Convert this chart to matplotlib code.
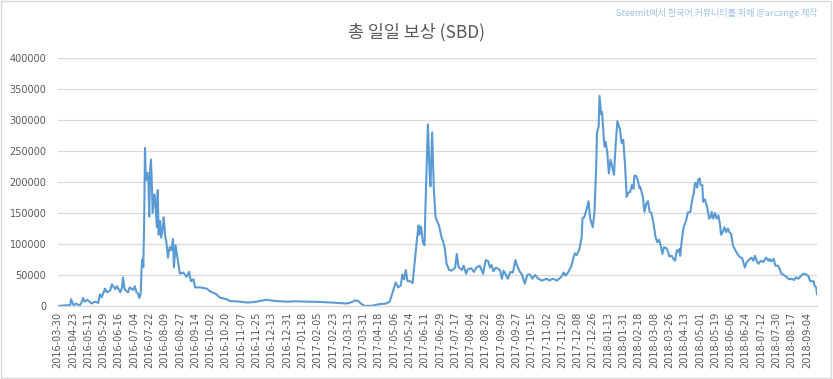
import matplotlib
matplotlib.use("Agg")
import matplotlib.pyplot as plt
from matplotlib.patches import Rectangle

# Tick labels (every 18th day of the series)
tick_labels = [
    "2016-03-30", "2016-04-23", "2016-05-11", "2016-05-29", "2016-06-16", "2016-07-04",
    "2016-07-22", "2016-08-09", "2016-08-27", "2016-09-14", "2016-10-02", "2016-10-20",
    "2016-11-07", "2016-11-25", "2016-12-13", "2016-12-31", "2017-01-18", "2017-02-05",
    "2017-02-23", "2017-03-13", "2017-03-31", "2017-04-18", "2017-05-06", "2017-05-24",
    "2017-06-11", "2017-06-29", "2017-07-17", "2017-08-04", "2017-08-22", "2017-09-09",
    "2017-09-27", "2017-10-15", "2017-11-02", "2017-11-20", "2017-12-08", "2017-12-26",
    "2018-01-13", "2018-01-31", "2018-02-18", "2018-03-08", "2018-03-26", "2018-04-13",
    "2018-05-01", "2018-05-19", "2018-06-06", "2018-06-24", "2018-07-12", "2018-07-30",
    "2018-08-17", "2018-09-04",
]
tick_step = 18

# Day index in the series and total daily reward (SBD)
day = [
    1, 9, 15, 16, 19, 22, 26, 29, 30, 32, 35, 36, 40, 44, 48, 50, 52, 56, 58, 62,
    64, 68, 70, 74, 76, 77, 79, 83, 85, 89, 91, 93, 95, 96, 97, 98, 99, 100, 101, 102,
    103, 104, 106, 107, 108, 109, 110, 111, 112, 114, 115, 117, 118, 119, 121, 122, 124, 125, 127, 128,
    130, 132, 134, 136, 137, 139, 141, 144, 148, 152, 155, 157, 160, 162, 168, 176, 179, 187, 191, 199,
    203, 215, 223, 232, 246, 256, 270, 281, 293, 309, 324, 340, 346, 350, 354, 358, 362, 370, 379, 387,
    391, 395, 398, 401, 404, 406, 408, 410, 412, 415, 418, 421, 423, 425, 426, 428, 430, 432, 433, 436,
    438, 439, 441, 443, 445, 449, 452, 454, 456, 458, 461, 464, 468, 470, 472, 476, 478, 481, 483, 487,
    490, 493, 497, 501, 504, 507, 509, 511, 513, 516, 519, 521, 523, 525, 528, 530, 533, 536, 539, 541,
    544, 547, 550, 553, 556, 559, 562, 566, 570, 576, 579, 583, 588, 593, 596, 598, 601, 605, 607, 609,
    611, 614, 617, 618, 620, 623, 625, 627, 630, 632, 634, 635, 637, 638, 640, 641, 643, 644, 645, 647,
    649, 651, 653, 655, 657, 659, 662, 664, 666, 668, 670, 672, 674, 676, 678, 679, 681, 683, 685, 686,
    689, 691, 693, 695, 697, 699, 701, 704, 706, 708, 710, 712, 714, 717, 719, 720, 723, 725, 727, 729,
    731, 732, 733, 735, 737, 740, 742, 745, 747, 749, 750, 751, 753, 754, 756, 757, 759, 760, 762, 764,
    766, 767, 769, 770, 772, 774, 776, 778, 780, 781, 783, 785, 787, 789, 791, 793, 795, 799, 803, 806,
    809, 811, 815, 817, 819, 821, 823, 825, 828, 831, 834, 837, 838, 840, 843, 845, 848, 850, 852, 855,
    858, 861, 864, 867, 869, 872, 874, 878, 881, 884, 886, 890, 891, 893, 894,
]
sbd = [
    0, 1000, 1500, 11000, 1000, 4000, 0, 8000, 13000, 7000, 10000, 9000, 4000, 7000, 5000, 19000, 14000, 28000, 22000, 25000,
    35000, 27000, 32000, 22000, 30000, 46000, 27000, 22000, 30000, 26000, 32000, 22000, 20000, 13000, 15000, 22000, 62000, 75000, 63000, 135000,
    255000, 203000, 215000, 200000, 144000, 220000, 236000, 200000, 150000, 180000, 170000, 127000, 187000, 115000, 137000, 110000, 125000, 143000, 110000, 105000,
    78000, 95000, 90000, 108000, 62000, 98000, 80000, 52000, 54000, 47000, 55000, 40000, 43000, 30000, 30000, 28000, 24000, 19000, 13500, 11000,
    8000, 7000, 5500, 6500, 10000, 8000, 7000, 7500, 7000, 6500, 5500, 4000, 6000, 9000, 8000, 3000, 0, 500, 3000, 4000,
    7000, 24000, 38000, 30000, 33000, 51000, 43000, 58000, 40000, 40000, 37000, 79000, 106000, 130000, 115000, 128000, 103000, 98000, 154000, 293000,
    214000, 193000, 280000, 188000, 143000, 130000, 111000, 104000, 92000, 68000, 58000, 57000, 62000, 84000, 63000, 58000, 65000, 52000, 59000, 61000,
    55000, 62000, 65000, 52000, 74000, 72000, 62000, 66000, 56000, 62000, 60000, 57000, 44000, 57000, 50000, 44000, 55000, 54000, 74000, 65000,
    56000, 50000, 36000, 50000, 51000, 44000, 50000, 44000, 41000, 44000, 41000, 44000, 41000, 47000, 54000, 49000, 54000, 65000, 76000, 85000,
    82000, 90000, 111000, 142000, 143000, 157000, 169000, 141000, 127000, 150000, 220000, 279000, 290000, 339000, 309000, 313000, 271000, 257000, 265000, 250000,
    214000, 236000, 224000, 212000, 260000, 298000, 285000, 263000, 268000, 228000, 176000, 183000, 184000, 195000, 189000, 210000, 210000, 203000, 190000, 192000,
    176000, 152000, 165000, 169000, 152000, 150000, 138000, 111000, 103000, 107000, 98000, 84000, 95000, 93000, 86000, 80000, 81000, 76000, 73000, 90000,
    87000, 92000, 81000, 108000, 127000, 138000, 151000, 152000, 171000, 182000, 195000, 199000, 191000, 203000, 206000, 195000, 195000, 168000, 172000, 163000,
    150000, 141000, 143000, 152000, 141000, 150000, 141000, 146000, 130000, 115000, 119000, 127000, 119000, 125000, 119000, 116000, 98000, 87000, 79000, 77000,
    62000, 70000, 76000, 78000, 73000, 81000, 73000, 68000, 73000, 71000, 78000, 73000, 76000, 72000, 76000, 65000, 65000, 60000, 52000, 50000,
    47000, 43000, 44000, 42000, 46000, 44000, 47000, 52000, 51000, 48000, 40000, 40000, 33000, 30000, 19000,
]

title = "총 일일 보상 (SBD)"
credit = "Steemit에서 한국어 커뮤니티를 위해 @arcange 제작"

kr_fonts = ["Noto Sans CJK KR", "DejaVu Sans"]
text_grey = "#595959"

fig = plt.figure(figsize=(8.33, 3.79), dpi=100)
ax = fig.add_axes([57.5 / 833, 1 - 306 / 379, (817 - 57.5) / 833, (306 - 58) / 379])

ax.plot(day, sbd, color="#5B9BD5", linewidth=1.5, solid_joinstyle="round")

ax.set_xlim(0, 894)
ax.set_ylim(0, 400000)
ax.set_yticks(range(0, 400001, 50000))
ax.set_xticks([i * tick_step for i in range(len(tick_labels))])
ax.set_xticklabels(tick_labels, rotation=90, fontsize=7, color=text_grey)
ax.tick_params(axis="y", labelsize=7, labelcolor=text_grey, length=0, pad=8)
ax.tick_params(axis="x", length=0, pad=4)

ax.grid(axis="y", color="#D9D9D9", linewidth=0.9)
ax.set_axisbelow(True)
for side in ["top", "right", "left"]:
    ax.spines[side].set_visible(False)
ax.spines["bottom"].set_color("#D9D9D9")
ax.spines["bottom"].set_linewidth(0.9)

fig.text(0.5, 1 - 32 / 379, title, ha="center", va="center", fontsize=12.5,
         color=text_grey, family=kr_fonts)
fig.text(818 / 833, 1 - 13 / 379, credit, ha="right", va="center", fontsize=6.5,
         color="#9DC3E6", family=kr_fonts)

# thin frame around the whole chart
fig.patches.append(Rectangle((0.001, 0.002), 0.997, 0.995, transform=fig.transFigure,
                             fill=False, edgecolor="#D9D9D9", linewidth=1))

fig.savefig("out.png", dpi=100)
